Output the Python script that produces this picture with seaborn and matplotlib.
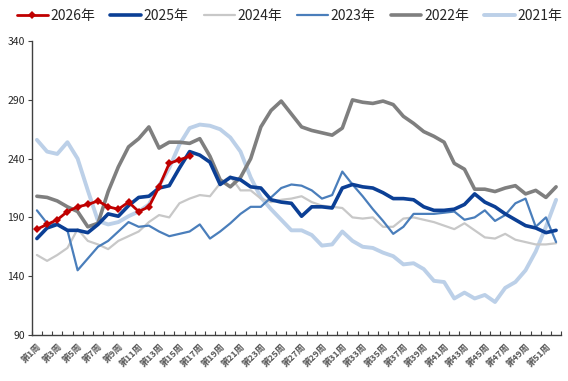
"""周度价格季节性对比"""
import numpy as np
import pandas as pd
import matplotlib
matplotlib.use("Agg")
import matplotlib.pyplot as plt
import seaborn as sns

week_labels = [f"第{i}周" for i in range(1, 53)]

y2026 = [180, 184, 188, 195, 199, 201, 204, 199, 197, 203, 195, 199, 216, 236, 239, 242]
y2025 = [172, 181, 184, 179, 179, 177, 184, 193, 191, 200, 207, 208, 215, 217, 232, 246,
         243, 237, 218, 224, 222, 216, 215, 205, 203, 202, 191, 199, 199, 198, 215, 218,
         216, 215, 211, 206, 206, 205, 199, 196, 196, 197, 201, 210, 203, 199, 193, 188,
         183, 181, 177, 179]
y2024 = [158, 153, 158, 164, 180, 170, 167, 163, 170, 174, 178, 186, 192, 190, 202, 206,
         209, 208, 219, 225, 213, 213, 206, 203, 205, 206, 208, 203, 200, 199, 198, 190,
         189, 190, 182, 182, 189, 190, 188, 186, 183, 180, 185, 179, 173, 172, 176, 171,
         169, 167, 167, 168]
y2023 = [196, 185, 184, 179, 145, 155, 165, 170, 178, 186, 182, 183, 178, 174, 176, 178,
         184, 172, 178, 185, 193, 199, 199, 207, 215, 218, 217, 213, 206, 209, 229, 218,
         208, 197, 187, 176, 182, 193, 193, 193, 194, 195, 188, 190, 196, 187, 192, 202,
         206, 182, 190, 169]
y2022 = [208, 207, 204, 199, 195, 182, 185, 212, 233, 250, 257, 267, 249, 254, 254, 253,
         257, 242, 222, 216, 224, 240, 267, 281, 289, 278, 267, 264, 262, 260, 266, 290,
         288, 287, 289, 286, 276, 270, 263, 259, 254, 236, 231, 214, 214, 212, 215, 217,
         210, 213, 207, 216]
y2021 = [256, 246, 244, 254, 240, 213, 187, 184, 186, 191, 195, 201, 217, 232, 252, 266,
         269, 268, 265, 258, 246, 224, 207, 197, 188, 179, 179, 175, 166, 167, 178, 170,
         165, 164, 160, 157, 150, 151, 146, 136, 135, 121, 126, 121, 124, 118, 130, 135,
         145, 161, 182, 205]

series = {
    "2026年": y2026,
    "2025年": y2025,
    "2024年": y2024,
    "2023年": y2023,
    "2022年": y2022,
    "2021年": y2021,
}
styles = {
    "2026年": dict(color="#c00000", lw=2.0, marker="D", markersize=4.5),
    "2025年": dict(color="#0b3f95", lw=2.6),
    "2024年": dict(color="#c8c8c8", lw=1.6),
    "2023年": dict(color="#4a7ebb", lw=1.6),
    "2022年": dict(color="#7f7f7f", lw=2.6),
    "2021年": dict(color="#bcd0e8", lw=2.8),
}
zorders = {"2021年": 1, "2024年": 2, "2023年": 3, "2022年": 4, "2025年": 5, "2026年": 6}

sns.set_theme(style="white")
plt.rcParams["font.family"] = ["Noto Sans CJK SC", "DejaVu Sans"]

fig = plt.figure(figsize=(5.68, 3.81), dpi=100)
ax = fig.add_axes([0.056, 0.121, 0.932, 0.771])

for name, vals in series.items():
    df = pd.DataFrame({"week": np.arange(1, len(vals) + 1), "value": vals})
    st = styles[name]
    sns.lineplot(data=df, x="week", y="value", ax=ax, label=name, color=st["color"],
                 linewidth=st["lw"], marker=st.get("marker"),
                 markersize=st.get("markersize", 0), markeredgewidth=0,
                 zorder=zorders[name])

ax.set_xlim(0.5, 52.5)
ax.set_ylim(90, 340)
ax.set_yticks(range(90, 341, 50))
ax.set_xticks(range(1, 53, 2))
ax.set_xticklabels(week_labels[::2], rotation=45, ha="right", rotation_mode="anchor",
                   fontsize=6.5, color="#595959", fontweight="bold")
ax.set_xticks(np.arange(0.5, 53, 1), minor=True)
ax.tick_params(axis="x", which="major", length=0, pad=5)
ax.tick_params(axis="x", which="minor", length=3, direction="in", width=0.8, color="#404040",
               bottom=True)
ax.tick_params(axis="y", length=3, direction="out", width=0.8, color="#404040",
               labelsize=7.5, left=True, pad=2)
for lab in ax.get_yticklabels():
    lab.set_color("#262626")
ax.set_xlabel("")
ax.set_ylabel("")
sns.despine(ax=ax)
for side in ["left", "bottom"]:
    ax.spines[side].set_color("#404040")
    ax.spines[side].set_linewidth(1.0)
ax.grid(False)

ax.legend_.remove()
handles, labels = ax.get_legend_handles_labels()
fig.legend(handles, labels, loc="upper center", bbox_to_anchor=(0.51, 1.01), ncol=6,
           frameon=False, fontsize=10, handlelength=2.2, columnspacing=1.1,
           handletextpad=0.2)

fig.savefig("out.png", dpi=100)
